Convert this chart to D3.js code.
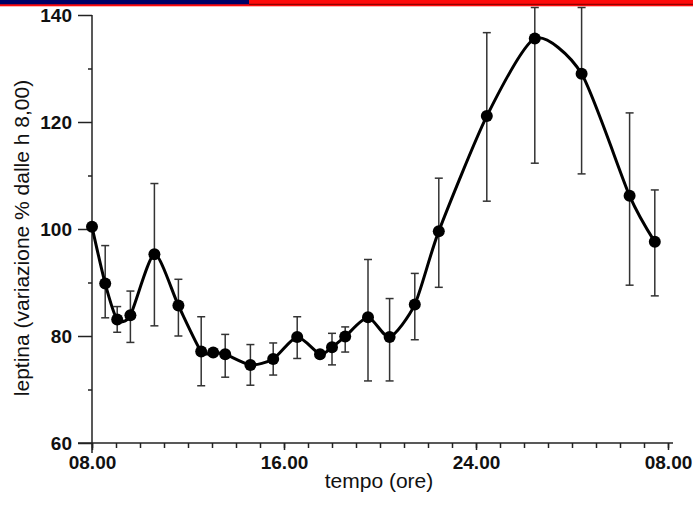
<!DOCTYPE html>
<html>
<head>
<meta charset="utf-8">
<script src="https://cdn.jsdelivr.net/npm/d3@7"></script>
<style>
    body { margin: 0; background: #fff; }
    svg { display: block; }
    .tickLabel { font-family: "Liberation Sans", Arial, sans-serif; font-weight: bold; font-size: 19px; fill: #111; }
    .axisTitle { font-family: "Liberation Sans", Arial, sans-serif; font-size: 21px; fill: #111; }
</style>
</head>
<body>
<div id="chart"></div>
<script>
// time of sampling (hours from midnight of day 1) and leptin (% change from 8:00)
const hours = [8.0, 8.55, 9.05, 9.6, 10.6, 11.6, 12.55, 13.05, 13.55, 14.6, 15.55, 16.55,
    17.5, 18.0, 18.55, 19.5, 20.4, 21.45, 22.45, 24.45, 26.45, 28.4, 30.4, 31.45];
const leptin = [100.4, 89.8, 83.1, 83.9, 95.3, 85.7, 77.1, 76.9, 76.6, 74.6, 75.7, 79.8,
    76.6, 77.9, 79.9, 83.5, 79.8, 85.9, 99.6, 121.1, 135.6, 129.0, 106.2, 97.6];
// error bar ends (null = no bar visible)
const upper = [null, 96.9, 85.5, 88.4, 108.5, 90.6, 83.6, null, 80.3, 78.4, 78.7, 83.6,
    null, 80.5, 81.7, 94.3, 87.0, 91.7, 109.5, 136.7, 141.4, 141.4, 121.7, 107.3];
const lower = [null, 83.4, 80.7, 78.8, 81.9, 80.0, 70.7, null, 72.3, 70.8, 72.7, 75.8,
    null, 74.6, 77.0, 71.6, 71.6, 79.3, 89.1, 105.2, 112.3, 110.3, 89.5, 87.5];

const yTicks = [60, 80, 100, 120, 140];
const yMinorTicks = [70, 90, 110, 130];
const xTickHours = [8, 16, 24, 32];
const xTickLabels = ["08.00", "16.00", "24.00", "08.00"];

const width = 693, height = 507;

const svg = d3.select("#chart")
    .append("svg")
    .attr("width", width)
    .attr("height", height);

// banner at the top
svg.append("rect").attr("x", 0).attr("y", 0).attr("width", width).attr("height", 6.3).attr("fill", "#ff0a0a");
svg.append("rect").attr("x", 0).attr("y", 0).attr("width", 249).attr("height", 4.3).attr("fill", "#000066");
svg.append("line").attr("x1", 249).attr("x2", width).attr("y1", 4.3).attr("y2", 4.3)
    .attr("stroke", "#7a0000").attr("stroke-width", 1);

const x = d3.scaleLinear().domain([8, 32]).range([92, 668]);
const y = d3.scaleLinear().domain([60, 140]).range([443, 15]);

const axisColor = "#222";

// y axis
const gy = svg.append("g").attr("transform", `translate(${x(8)},0)`);
gy.call(d3.axisLeft(y).tickValues(yTicks).tickSize(14).tickPadding(6));
gy.append("g").call(d3.axisLeft(y).tickValues(yMinorTicks).tickSize(4).tickFormat(""));
gy.selectAll(".domain").remove();
gy.selectAll("line").attr("stroke", axisColor).attr("stroke-width", 1.5);
gy.selectAll("text").attr("class", "tickLabel").attr("font-family", null).attr("font-size", null).attr("fill", null);
gy.append("line")
    .attr("x1", 0).attr("x2", 0)
    .attr("y1", y(140)).attr("y2", y(60) + 10)
    .attr("stroke", axisColor).attr("stroke-width", 1.5);

// x axis
const gx = svg.append("g").attr("transform", `translate(0,${y(60)})`);
gx.call(d3.axisBottom(x).tickValues(d3.range(8, 33)).tickSize(5).tickFormat(""));
gx.append("g").call(d3.axisBottom(x).tickValues(xTickHours).tickSize(7).tickPadding(6)
    .tickFormat((d, i) => xTickLabels[i]));
gx.selectAll(".domain").remove();
gx.selectAll("line").attr("stroke", axisColor).attr("stroke-width", 1.5);
gx.selectAll("text").attr("class", "tickLabel").attr("font-family", null).attr("font-size", null).attr("fill", null);
// first label sits to the right of the y axis
gx.selectAll("text").filter((d, i) => i == 0).attr("text-anchor", "start");
gx.append("line")
    .attr("x1", x(8) - 14).attr("x2", x(32) + 5)
    .attr("y1", 0).attr("y2", 0)
    .attr("stroke", axisColor).attr("stroke-width", 1.5);

// axis titles
svg.append("text")
    .attr("class", "axisTitle")
    .attr("text-anchor", "middle")
    .attr("x", 379)
    .attr("y", 488)
    .text("tempo (ore)");

svg.append("text")
    .attr("class", "axisTitle")
    .attr("text-anchor", "middle")
    .attr("transform", "translate(29,238) rotate(-90)")
    .text("leptina (variazione % dalle h 8,00)");

const data = hours.map((h, i) => ({h: h, v: leptin[i], hi: upper[i], lo: lower[i]}));

// error bars
const bars = svg.append("g").selectAll(".errBar")
    .data(data.filter(d => d.hi != null))
    .join("g")
    .attr("class", "errBar")
    .attr("stroke", "#333")
    .attr("stroke-width", 1.5);
bars.append("line")
    .attr("x1", d => x(d.h)).attr("x2", d => x(d.h))
    .attr("y1", d => y(d.hi)).attr("y2", d => y(d.lo));
bars.append("line")
    .attr("x1", d => x(d.h) - 4).attr("x2", d => x(d.h) + 4)
    .attr("y1", d => y(d.hi)).attr("y2", d => y(d.hi));
bars.append("line")
    .attr("x1", d => x(d.h) - 4).attr("x2", d => x(d.h) + 4)
    .attr("y1", d => y(d.lo)).attr("y2", d => y(d.lo));

// smooth curve, a bit tighter than catmull-rom so the peaks stay pointed
const line = d3.line()
    .x(d => x(d.h))
    .y(d => y(d.v))
    .curve(d3.curveCardinal.tension(0.3));

svg.append("path")
    .datum(data)
    .attr("d", line)
    .attr("fill", "none")
    .attr("stroke", "#000")
    .attr("stroke-width", 3);

svg.selectAll(".dot")
    .data(data)
    .join("circle")
    .attr("class", "dot")
    .attr("cx", d => x(d.h))
    .attr("cy", d => y(d.v))
    .attr("r", 6)
    .attr("fill", "#000");
</script>
</body>
</html>
